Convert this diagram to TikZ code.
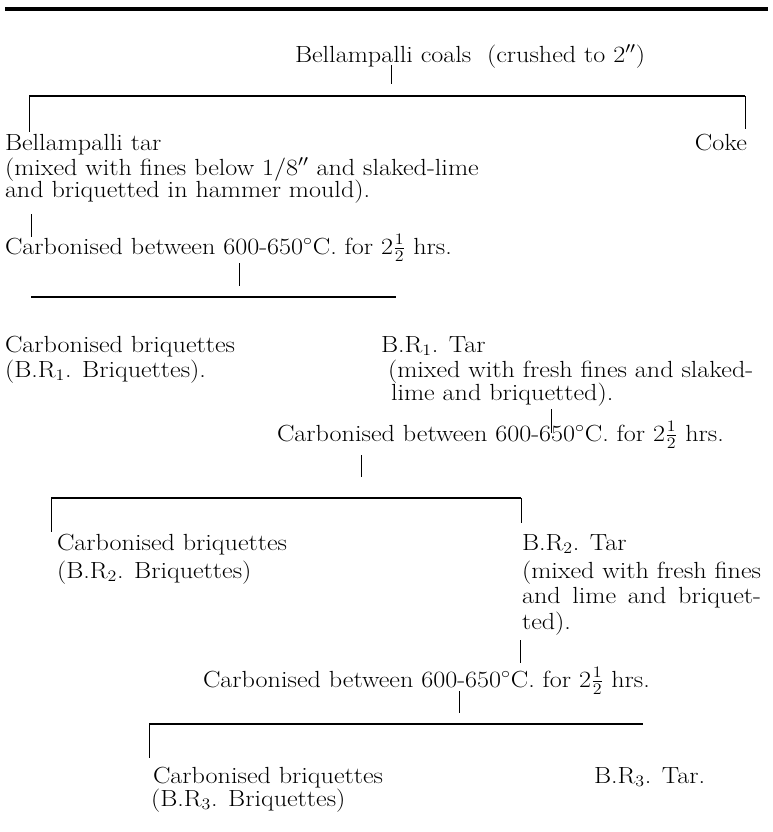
\documentclass[tikz,border=0pt]{standalone}
\usepackage{graphicx}
\newcommand{\widetext}[1]{\scalebox{1.12}[1]{#1}}
\begin{document}
\begin{tikzpicture}[x=0.75pt,y=-0.75pt,
  lbl/.style={inner sep=0pt,outer sep=0pt,font=\fontsize{17.5}{21}\selectfont,anchor=base west},
  lblr/.style={lbl,anchor=base east},
  bar/.style={line width=1.2pt},
  stem/.style={line width=0.7pt},
  toprule/.style={line width=3.5pt}]
\useasboundingbox (0,0) rectangle (772,832);
\draw[toprule] (5,9) -- (768,9);
% texts
\node[lbl] (coals) at (295,62) {\widetext{Bellampalli coals\ \ (crushed to 2$''$)}};
\node[lbl] (btar) at (5,150) {\widetext{Bellampalli tar}};
\node[lblr] (coke) at (747,150) {\widetext{Coke}};
\node[lbl] (mixa) at (5,175) {\widetext{(mixed with fines below 1/8$''$ and slaked-lime}};
\node[lbl] (mixb) at (5,197) {\widetext{and briquetted in hammer mould).}};
\node[lbl] (carba) at (5,254) {\widetext{Carbonised between 600-650$^\circ$C. for 2$\frac{1}{2}$ hrs.}};
\node[lbl] (cba) at (5,352) {\widetext{Carbonised briquettes}};
\node[lbl] (cbab) at (5,377) {\widetext{(B.R$_1$. Briquettes).}};
\node[lbl] (tara) at (381,352) {\widetext{B.R$_1$. Tar}};
\node[lbl] (mixc) at (388,377) {\widetext{(mixed with fresh fines and slaked-}};
\node[lbl] (mixd) at (391,400) {\widetext{lime and briquetted).}};
\node[lbl] (carbb) at (277,441) {\widetext{Carbonised between 600-650$^\circ$C. for 2$\frac{1}{2}$ hrs.}};
\node[lbl] (cbb) at (57,550) {\widetext{Carbonised briquettes}};
\node[lbl] (cbbb) at (57,578) {\widetext{(B.R$_2$. Briquettes)}};
\node[lbl] (tarb) at (522,550) {\widetext{B.R$_2$. Tar}};
\node[lbl] (mixe) at (522,578) {\widetext{(mixed with fresh fines}};
\node[lbl] (mixf) at (522,603) {\widetext{\setbox0\hbox{(mixed with fresh fines}\hbox to \wd0{and\hfill lime\hfill and\hfill briquet-}}};
\node[lbl] (mixg) at (522,629) {\widetext{ted).}};
\node[lbl] (carbc) at (203,687) {\widetext{Carbonised between 600-650$^\circ$C. for 2$\frac{1}{2}$ hrs.}};
\node[lbl] (cbc) at (153,783) {\widetext{Carbonised briquettes}};
\node[lbl] (cbcb) at (151,806) {\widetext{(B.R$_3$. Briquettes)}};
\node[lbl] (tarc) at (594,783) {\widetext{B.R$_3$. Tar.}};
% junction coordinates
\coordinate (s1t) at (391,65);  \coordinate (s1b) at (391,84);
\coordinate (b1l) at (29,96);   \coordinate (b1r) at (745,96);
\coordinate (d1l) at (29,132);  \coordinate (d1r) at (745,129);
\coordinate (s2t) at (31,214);  \coordinate (s2b) at (31,237);
\coordinate (s3t) at (239,263); \coordinate (s3b) at (239,286);
\coordinate (b2l) at (31,297);  \coordinate (b2r) at (396,297);
\coordinate (s4t) at (551,409); \coordinate (s4b) at (551,433);
\coordinate (s5t) at (361,455); \coordinate (s5b) at (361,477);
\coordinate (b3l) at (51,498);  \coordinate (b3r) at (521,498);
\coordinate (d3l) at (51,532);  \coordinate (d3r) at (521,523);
\coordinate (s6t) at (520,640); \coordinate (s6b) at (520,663);
\coordinate (s7t) at (459,691); \coordinate (s7b) at (459,713);
\coordinate (b4l) at (149,724); \coordinate (b4r) at (643,724);
\coordinate (d4l) at (149,758);
% connectors
\draw[stem] (s1t) -- (s1b);
\draw[bar] (b1l) -- (b1r);
\draw[stem] (b1l) -- (d1l);
\draw[stem,line width=0.5pt] (b1r) -- (d1r);
\draw[stem] (s2t) -- (s2b);
\draw[stem] (s3t) -- (s3b);
\draw[bar] (b2l) -- (b2r);
\draw[stem] (s4t) -- (s4b);
\draw[stem] (s5t) -- (s5b);
\draw[bar,line width=0.9pt] (b3l) -- (b3r);
\draw[stem] (b3l) -- (d3l);
\draw[stem,line width=0.4pt] (b3r) -- (d3r);
\draw[stem] (s6t) -- (s6b);
\draw[stem] (s7t) -- (s7b);
\draw[bar] (b4l) -- (b4r);
\draw[stem] (b4l) -- (d4l);
\end{tikzpicture}
\end{document}
